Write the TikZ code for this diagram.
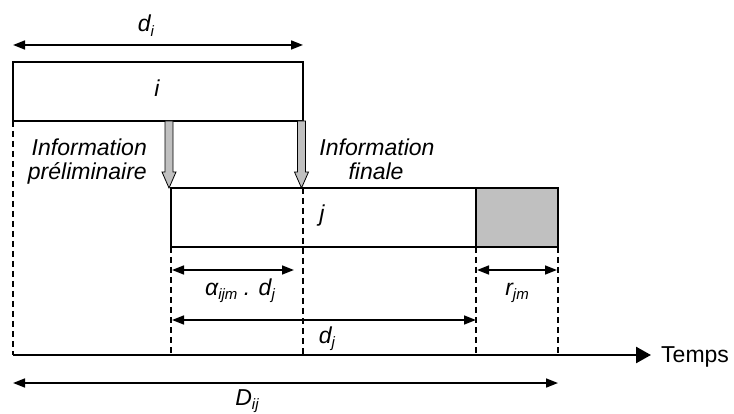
\documentclass[tikz,border=0pt]{standalone}
\usepackage{fontspec}
\setmainfont{Liberation Sans}
\usetikzlibrary{arrows.meta,calc}
\definecolor{boxgray}{HTML}{C0C0C0}
\newcommand\lsub[1]{\raisebox{-0.4ex}{\fontsize{15}{15}\selectfont\itshape #1}}
\begin{document}
\begin{tikzpicture}[x=1pt,y=-1pt,
  every node/.style={font=\fontsize{23}{27}\selectfont},
  box/.style={draw, line width=1.6pt, inner sep=0, outer sep=0, minimum height=59pt},
  lab/.style={inner sep=0, font=\fontsize{23}{27}\selectfont\itshape},
  dashline/.style={line width=1.6pt, dash pattern=on 6pt off 4pt},
  dim/.style={line width=1.7pt, {Triangle[length=12pt,width=9pt]}-{Triangle[length=12pt,width=9pt]}},
  axisline/.style={line width=2.5pt, -{Triangle[length=15pt,width=16pt]}},
  grayarrow/.pic={\filldraw[fill=boxgray, draw=black, line width=0.8pt]
     (-4,0) -- (-4,51) -- (-7,51) -- (0,67) -- (7,51) -- (4,51) -- (4,0) -- cycle;}
]
\useasboundingbox (0,0) rectangle (734,414);

% helper levels
\coordinate (ydi) at (0,45);
\coordinate (ya) at (0,270);
\coordinate (yd) at (0,320);
\coordinate (ax) at (0,355);
\coordinate (yD) at (0,383);
\coordinate (alphaend) at (294,270);

% boxes
\node[box, minimum width=290pt] (i) at (158,91.5) {};
\node[lab] at (157,88) {i};
\node[box, minimum width=305pt] (j) at (323.5,217.5) {};
\node[lab] at (322,216) {j};
\node[box, fill=boxgray, minimum width=82pt] (r) at (517,217.5) {};

% dashed lines
\draw[dashline] (i.south west) -- (i.west |- ax);
\draw[dashline] (j.south west) -- (j.west |- ax);
\draw[dashline] (i.east |- j.north) -- (i.east |- ax);
\draw[dashline] (j.south east) -- (j.east |- ax);
\draw[dashline] (r.south east) -- (r.east |- ax);

% gray information arrows
\pic at ($(j.west |- i.south)+(-2,0)$) {grayarrow};
\pic at ($(i.south east)+(-1.5,0)$) {grayarrow};

% texts
\node[lab, anchor=base] (dil) at (146,32) {d\lsub{i}};
\node[lab, anchor=base east] (p1) at (147,156) {Information};
\node[lab, anchor=base east] (p2) at (147,180) {préliminaire};
\node[lab, anchor=base] (f1) at (377,156) {Information};
\node[lab, anchor=base] (f2) at (376,180) {finale};
\node[lab, anchor=base] (al) at (240,295) {α\lsub{ijm} . d\lsub{j}};
\node[lab, anchor=base] (rl) at (517,295) {r\lsub{jm}};
\node[lab, anchor=base] (djl) at (327,343) {d\lsub{j}};
\node[lab, anchor=base] (Dl) at (247,405) {D\lsub{ij}};
\node[inner sep=0, anchor=base west] (temps) at (661,362) {Temps};

% dimension arrows
\draw[dim] (i.west |- ydi) -- (i.east |- ydi);
\draw[dim] ([xshift=1pt]j.west |- ya) -- (alphaend);
\draw[dim] ([xshift=1pt]r.west |- ya) -- ([xshift=-1pt]r.east |- ya);
\draw[dim] ([xshift=1pt]j.west |- yd) -- (j.east |- yd);
\draw[dim] (i.west |- yD) -- (r.east |- yD);

% time axis
\draw[axisline, shorten >=10pt] (i.west |- ax) -- (temps.west |- ax);
\end{tikzpicture}
\end{document}
